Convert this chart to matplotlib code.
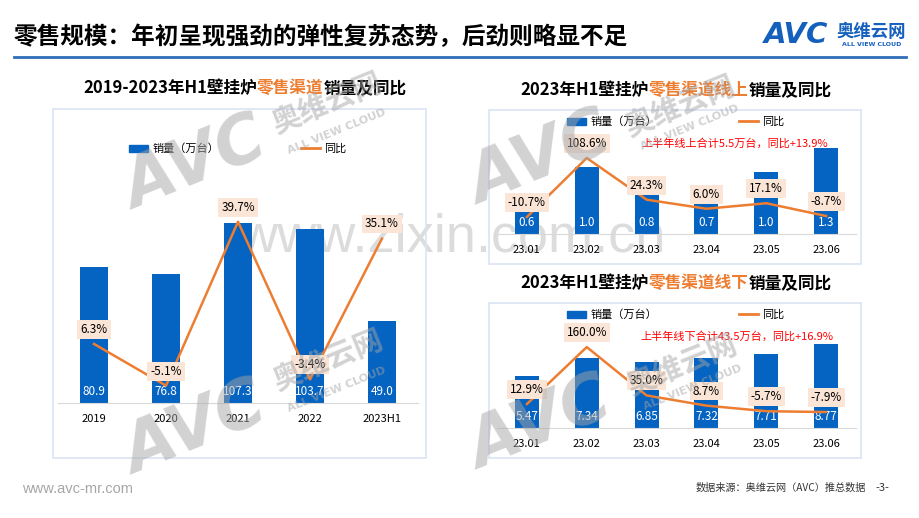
import numpy as np
import matplotlib
matplotlib.use("Agg")
import matplotlib.pyplot as plt
from matplotlib.patches import Rectangle, Patch
from matplotlib.lines import Line2D

plt.rcParams['font.family'] = ['Noto Sans CJK SC', 'DejaVu Sans']

# data
years = ["2019", "2020", "2021", "2022", "2023H1"]
year_sales = [80.9, 76.8, 107.3, 103.7, 49.0]
year_yoy = [6.3, -5.1, 39.7, -3.4, 35.1]

months = ["23.01", "23.02", "23.03", "23.04", "23.05", "23.06"]
online_sales = [0.6, 1.04, 0.8, 0.7, 0.96, 1.34]
online_yoy = [-10.7, 108.6, 24.3, 6.0, 17.1, -8.7]
offline_sales = [5.47, 7.34, 6.85, 7.32, 7.71, 8.77]
offline_yoy = [12.9, 160.0, 35.0, 8.7, -5.7, -7.9]

BLUE = "#0563C1"
ORANGE = "#ED7D31"
PEACH = "#FBE5D6"
W, H = 920, 518

fig = plt.figure(figsize=(W / 100, H / 100), dpi=100)


def fx(x):
    return x / W


def fy(y):
    return 1 - y / H


def make_ax(x0, x1, ytop, ybot):
    return fig.add_axes([fx(x0), fy(ybot), (x1 - x0) / W, (ybot - ytop) / H])


def frame(x0, y0, x1, y1):
    fig.add_artist(Rectangle((fx(x0), fy(y1)), (x1 - x0) / W, (y1 - y0) / H,
                             transform=fig.transFigure, fill=False,
                             ec="#DAE3F3", lw=1.2))


def rich_title(cx, cy, parts, size=12):
    # measure prefix widths on the whole string so the pieces join up cleanly
    r = fig.canvas.get_renderer()
    probe = fig.text(0, 0, "", fontsize=size, fontweight="bold")
    starts = []
    acc = ""
    for s, c in parts:
        probe.set_text(acc)
        starts.append(probe.get_window_extent(r).width if acc else 0)
        acc += s
    probe.set_text(acc)
    total = probe.get_window_extent(r).width
    probe.remove()
    x0 = cx - total / 2
    for (s, c), st in zip(parts, starts):
        fig.text(fx(x0 + st), fy(cy), s, color=c, fontsize=size, fontweight="bold", va="center")


def legend(x_rect, x_line, y):
    fig.legend(handles=[Patch(color=BLUE)], labels=["销量（万台）"], loc="center left",
               bbox_to_anchor=(fx(x_rect), fy(y)), frameon=False, fontsize=8,
               handlelength=1.7, handletextpad=0.4, borderpad=0, borderaxespad=0)
    fig.legend(handles=[Line2D([], [], color=ORANGE, lw=2)], labels=["同比"], loc="center left",
               bbox_to_anchor=(fx(x_line), fy(y)), frameon=False, fontsize=8,
               handlelength=1.7, handletextpad=0.4, borderpad=0, borderaxespad=0)


def draw_panel(ax, cats, vals, yoy, ylim, ylim2, fmt):
    x = np.arange(len(cats))
    ax.bar(x, vals, width=0.4, color=BLUE, zorder=2)
    ax.set_xlim(-0.5, len(cats) - 0.5)
    ax.set_ylim(*ylim)
    ax.set_xticks(x, cats)
    ax.tick_params(axis="x", length=0, pad=8, labelsize=8)
    ax.set_yticks([])
    for s in ["top", "right", "left"]:
        ax.spines[s].set_visible(False)
    ax.spines["bottom"].set_color("#D9D9D9")
    ax.set_facecolor("none")
    for xi, v in zip(x, vals):
        ax.annotate(fmt.format(v), (xi, 0), xytext=(0, 8), textcoords="offset points",
                    ha="center", va="center", color="white", fontsize=8.5, zorder=3)
    ax2 = ax.twinx()
    ax2.plot(x, yoy, color=ORANGE, lw=1.8)
    ax2.set_ylim(*ylim2)
    ax2.axis("off")
    for xi, v in zip(x, yoy):
        ax2.annotate(f"{v:.1f}%", (xi, v), xytext=(0, 10.5), textcoords="offset points",
                     ha="center", va="center", fontsize=8.5,
                     bbox=dict(boxstyle="square,pad=0.25", fc=PEACH, ec="none"))


# background watermark text (behind charts)
fig.text(fx(452), fy(238), "www.zixin.com.cn", fontsize=39, color="#DCDCDC",
         ha="center", va="center", family="Liberation Sans", zorder=-1)

# header
fig.text(fx(14), fy(37), "零售规模：年初呈现强劲的弹性复苏态势，后劲则略显不足",
         fontsize=17, fontweight="bold", va="center")
fig.add_artist(Line2D([fx(14), fx(906)], [fy(57), fy(57)], color="#2F6EBA", lw=2,
                      transform=fig.transFigure))
fig.text(fx(796), fy(35), "AVC", fontsize=21, fontweight="bold", style="italic",
         color="#1560BD", ha="center", va="center", family="DejaVu Sans")
fig.text(fx(871), fy(32), "奥维云网", fontsize=12.5, fontweight="bold",
         color="#1560BD", ha="center", va="center")
fig.text(fx(872), fy(45), "ALL VIEW CLOUD", fontsize=4.5, fontweight="bold",
         color="#1560BD", ha="center", va="center", family="DejaVu Sans")

# panels
frame(53, 109, 426, 458)
frame(489, 110, 861, 264)
frame(489, 303, 861, 458)

rich_title(245, 88, [("2019-2023年H1壁挂炉", "black"), ("零售渠道", ORANGE), ("销量及同比", "black")])
rich_title(676, 90, [("2023年H1壁挂炉", "black"), ("零售渠道线上", ORANGE), ("销量及同比", "black")])
rich_title(676, 283, [("2023年H1壁挂炉", "black"), ("零售渠道线下", ORANGE), ("销量及同比", "black")])

ax1 = make_ax(58, 418, 180, 403)
draw_panel(ax1, years, year_sales, year_yoy, (0, 132.9), (-9.84, 51.1), "{:.1f}")
legend(129, 301, 149)

ax2 = make_ax(497, 856, 130, 234)
draw_panel(ax2, months, online_sales, online_yoy, (0, 1.62), (-45.1, 165.2), "{:.1f}")
legend(567, 739, 122)
fig.text(fx(735), fy(143), "上半年线上合计5.5万台，同比+13.9%", color="#FF0000",
         fontsize=8, ha="center", va="center")

ax3 = make_ax(497, 856, 325, 428)
draw_panel(ax3, months, offline_sales, offline_yoy, (0, 10.76), (-49.1, 217), "{:.2f}")
legend(567, 739, 315)
fig.text(fx(737), fy(336), "上半年线下合计43.5万台，同比+16.9%", color="#FF0000",
         fontsize=8, ha="center", va="center")

# AVC watermarks on top
marks = [((195, 165), (327, 103), (337, 132)),
         ((195, 430), (328, 360), (337, 390)),
         ((540, 160), (680, 106), (690, 128)),
         ((540, 425), (682, 365), (693, 388))]
for (ax_, ay_), (bx, by), (cx, cy) in marks:
    fig.text(fx(ax_), fy(ay_), "AVC", fontsize=48, fontweight="bold", style="italic",
             color="#A6A6A6", alpha=0.5, rotation=22, ha="center", va="center",
             family="DejaVu Sans", zorder=10)
    fig.text(fx(bx), fy(by), "奥维云网", fontsize=21, fontweight="bold",
             color="#A6A6A6", alpha=0.5, rotation=22, ha="center", va="center", zorder=10)
    fig.text(fx(cx), fy(cy), "ALL VIEW CLOUD", fontsize=8, fontweight="bold",
             color="#A6A6A6", alpha=0.5, rotation=22, ha="center", va="center",
             family="DejaVu Sans", zorder=10)

# footer
fig.text(fx(22), fy(489), "www.avc-mr.com", fontsize=10.5, color="#A6A6A6", va="center",
         family="Liberation Sans")
fig.text(fx(696), fy(488), "数据来源：奥维云网（AVC）推总数据", fontsize=7.3, color="#333333",
         va="center")
fig.text(fx(875), fy(488), "-3-", fontsize=8, color="#333333", va="center")

fig.savefig("out.png", dpi=100)
